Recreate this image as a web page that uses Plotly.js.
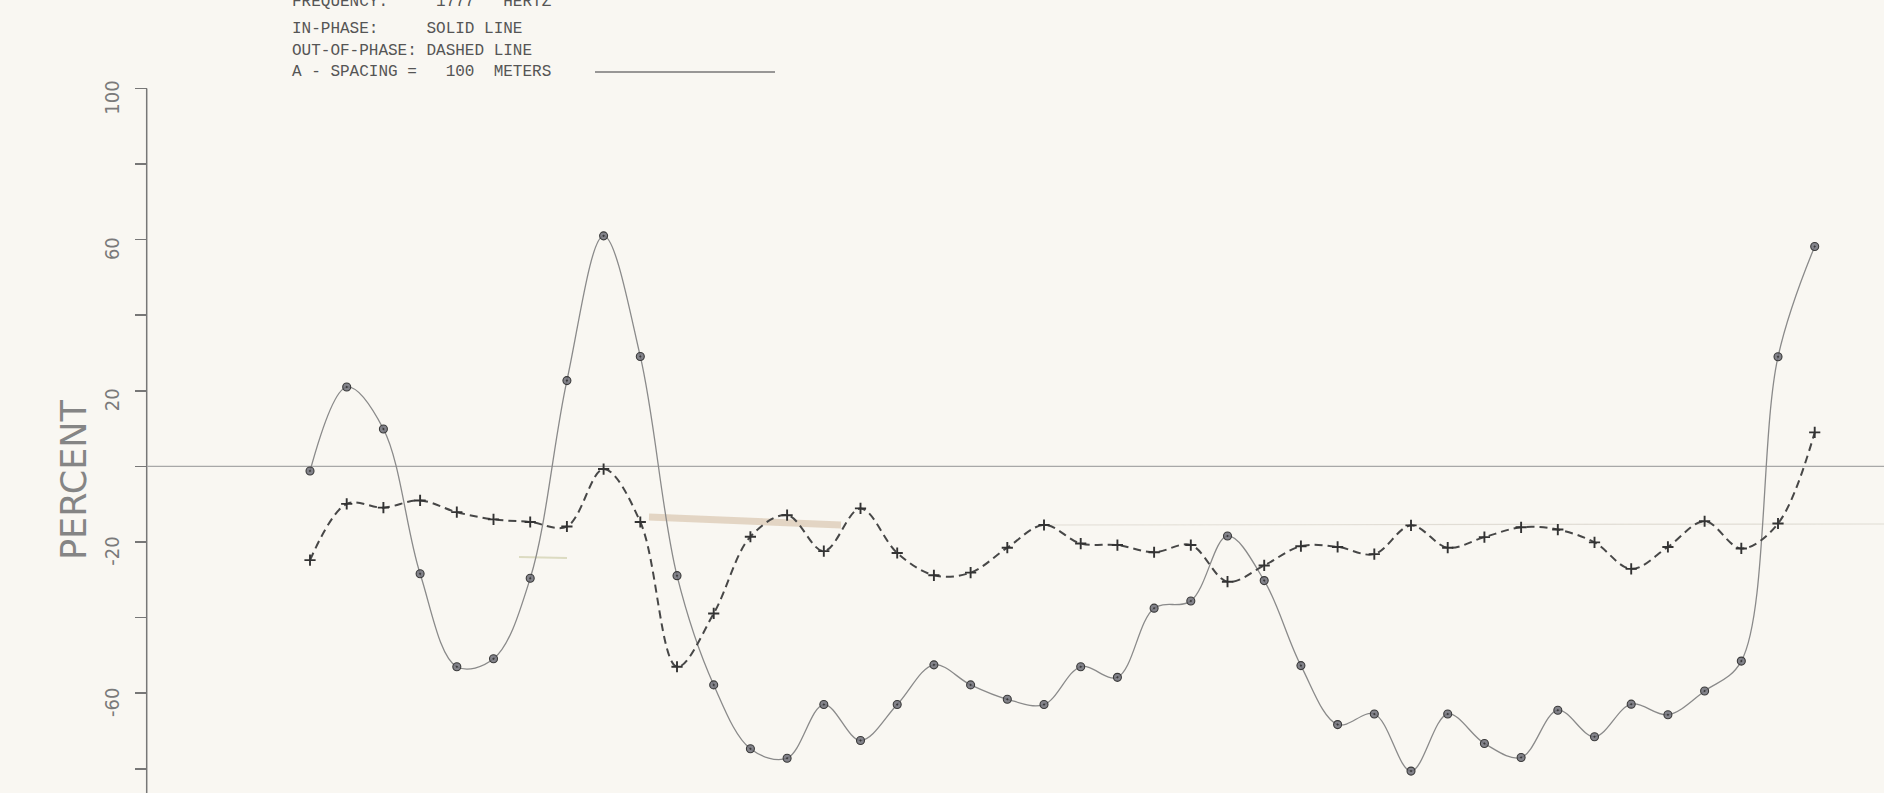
<!DOCTYPE html>
<html>
<head>
<meta charset="utf-8">
<script src="https://cdn.plot.ly/plotly-3.0.1.min.js"></script>
<style>
  html, body { margin: 0; padding: 0; background: #f9f7f2; }
  #chart { width: 1884px; height: 793px; }
</style>
</head>
<body>
<div id="chart"></div>
<script>
// Station index along the profile
const stations = [0,1,2,3,4,5,6,7,8,9,10,11,12,13,14,15,16,17,18,19,20,
                  21,22,23,24,25,26,27,28,29,30,31,32,33,34,35,36,37,38,39,40,41];

// In-phase component (solid line), percent
const inPhase = [-1.2, 21.0, 9.9, -28.4, -53.0, -50.9, -29.6, 22.7, 61.0, 29.1,
                 -28.9, -57.8, -74.7, -77.2, -63.0, -72.5, -63.0, -52.5, -57.8, -61.6,
                 -63.0, -53.0, -55.8, -37.5, -35.6, -18.4, -30.2, -52.7, -68.3, -65.5,
                 -80.6, -65.5, -73.3, -77.0, -64.5, -71.5, -62.9, -65.7, -59.4, -51.5,
                 29.0, 58.2];

// Out-of-phase component (dashed line), percent
const outPhase = [-24.8, -9.9, -10.9, -9.0, -12.1, -14.0, -14.7, -15.9, -0.7, -14.7,
                  -53.0, -38.9, -18.6, -12.9, -22.4, -11.1, -22.9, -28.8, -28.1, -21.5,
                  -15.5, -20.4, -20.8, -22.7, -20.8, -30.5, -26.2, -21.1, -21.3, -23.2,
                  -15.6, -21.5, -18.7, -16.1, -16.7, -20.1, -27.1, -21.3, -14.5, -21.7,
                  -15.1, 9.0];

// Y-axis ticks
const yTickVals = [-80, -60, -40, -20, 0, 20, 40, 60, 80, 100];
const yTickText = ['', '-60', '', '-20', '', '20', '', '60', '', '100'];

// Header text lines
const headerLines = [
  'FREQUENCY:     1777   HERTZ',
  'IN-PHASE:     SOLID LINE',
  'OUT-OF-PHASE: DASHED LINE',
  'A - SPACING =   100  METERS'
];
const yTitle = 'PERCENT';

// ---------- layout geometry (pixels) ----------
const W = 1884, H = 793;
const X_RANGE = [-8.447, 42.888];
const Y_RANGE = [-86.4, 123.4];
const AXIS_PX = 146.7;
const axisX = X_RANGE[0] + AXIS_PX / W * (X_RANGE[1] - X_RANGE[0]);
const px = v => v / W;
const py = v => 1 - v / H;
const nb = s => s.replace(/ /g, '\u00A0');

const traces = [
  {
    x: stations, y: inPhase, type: 'scatter', mode: 'lines+markers',
    line: {shape: 'spline', smoothing: 1, color: '#8a8a8a', width: 1.3},
    marker: {symbol: 'circle-dot', size: 8, color: 'rgba(110,110,120,0.85)',
             line: {color: '#3a3a3a', width: 1.1}},
    hoverinfo: 'skip'
  },
  {
    x: stations, y: outPhase, type: 'scatter', mode: 'lines+markers',
    line: {shape: 'spline', smoothing: 1, color: '#474747', width: 2, dash: '8px,5px'},
    marker: {symbol: 'cross-thin', size: 8, line: {color: '#333', width: 1.9}},
    hoverinfo: 'skip'
  }
];

const headerX = 290;
const headerYs = [2, 29, 50.5, 72];
const annotations = headerLines.map((t, i) => ({
  text: nb(t), xref: 'paper', yref: 'paper',
  x: px(headerX), y: py(headerYs[i]),
  xanchor: 'left', yanchor: 'middle', showarrow: false,
  font: {family: 'Liberation Mono, DejaVu Sans Mono, monospace', size: 16, color: '#555'}
}));
annotations.push({
  text: yTitle, xref: 'paper', yref: 'paper', x: px(74), y: py(480),
  xanchor: 'center', yanchor: 'middle', showarrow: false, textangle: -90,
  font: {family: 'DejaVu Sans, sans-serif', size: 35, color: '#858585'}
});

const shapes = [
  // y axis line
  {type: 'line', xref: 'x', yref: 'y', x0: axisX, x1: axisX, y0: 100, y1: Y_RANGE[0],
   line: {color: '#777', width: 1.5}, layer: 'below'},
  // zero line
  {type: 'line', xref: 'x', yref: 'y', x0: axisX, x1: X_RANGE[1], y0: 0, y1: 0,
   line: {color: '#a8a8a8', width: 1.2}, layer: 'below'},
  // spacing scale bar in header
  {type: 'line', xref: 'paper', yref: 'paper', x0: px(595), x1: px(775), y0: py(72), y1: py(72),
   line: {color: '#777', width: 1.3}},
  // paper stains / faint marks
  {type: 'line', xref: 'paper', yref: 'paper', x0: px(649), x1: px(841), y0: py(517), y1: py(525),
   line: {color: 'rgba(215,195,170,0.65)', width: 7}, layer: 'below'},
  {type: 'line', xref: 'paper', yref: 'paper', x0: px(519), x1: px(567), y0: py(557), y1: py(558),
   line: {color: 'rgba(200,200,160,0.6)', width: 2}, layer: 'below'},
  {type: 'line', xref: 'paper', yref: 'paper', x0: px(1040), x1: px(1884), y0: py(525), y1: py(524),
   line: {color: 'rgba(205,200,190,0.55)', width: 1.2}, layer: 'below'}
];

const layout = {
  width: W, height: H,
  margin: {l: 0, r: 0, t: 0, b: 0, pad: 0},
  paper_bgcolor: '#f9f7f2', plot_bgcolor: '#f9f7f2',
  showlegend: false,
  xaxis: {range: X_RANGE, visible: false, fixedrange: true},
  yaxis: {
    range: Y_RANGE, anchor: 'free', position: AXIS_PX / W, side: 'left',
    showline: false, showgrid: false, zeroline: false,
    tickmode: 'array', tickvals: yTickVals, ticktext: yTickText,
    ticks: 'outside', ticklen: 12, tickwidth: 1.5, tickcolor: '#777',
    tickangle: -90, ticklabelstandoff: 8, ticklabelshift: 12,
    tickfont: {family: 'Liberation Sans Narrow, DejaVu Sans Condensed, DejaVu Sans, sans-serif', size: 20, color: '#7a7a7a'},
    fixedrange: true
  },
  shapes: shapes,
  annotations: annotations
};

Plotly.newPlot('chart', traces, layout, {displayModeBar: false, staticPlot: true});
</script>
</body>
</html>
